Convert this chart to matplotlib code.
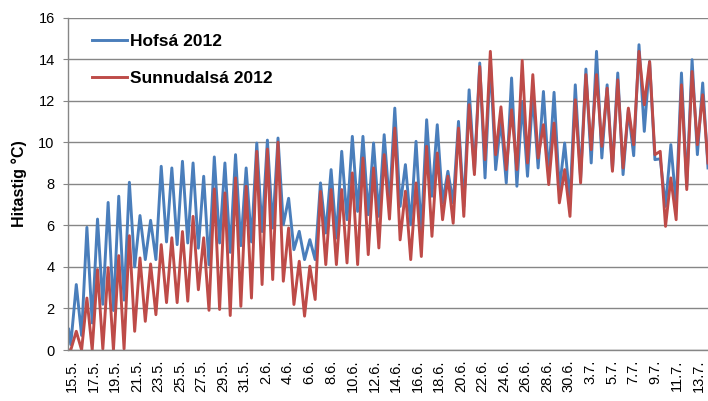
import matplotlib.pyplot as plt
import numpy as np

# daily maximum / minimum (one value per day, 15.5 - 13.7)
hofsa_max = [3.15, 5.9, 6.3, 7.1, 7.4, 8.07, 6.47, 6.24, 8.84, 8.76,
             9.08, 9.0, 8.36, 9.29, 9.0, 9.4, 8.76, 9.96, 10.1, 10.2,
             7.3, 5.71, 5.31, 8.04, 8.68, 9.56, 10.28, 10.28, 9.96, 10.36,
             11.64, 8.92, 10.04, 11.08, 10.84, 8.6, 11.0, 12.52, 13.81, 13.9,
             11.08, 13.09, 11.96, 12.28, 12.44, 12.4, 9.96, 12.76, 13.52, 14.37,
             12.76, 13.33, 11.56, 14.69, 13.88, 9.2, 9.88, 13.33, 13.97, 12.85]
hofsa_min = [0.7, 1.3, 2.2, 1.9, 2.4, 4.0, 4.35, 4.35, 5.2, 5.07,
             5.15, 4.9, 4.1, 5.15, 4.7, 5.02, 5.2, 5.7, 5.87, 6.03,
             4.83, 4.35, 4.35, 5.63, 5.39, 6.27, 6.67, 6.51, 6.43, 7.0,
             6.91, 6.03, 5.63, 7.4, 7.08, 7.08, 6.9, 8.6, 8.28, 8.68,
             8.04, 7.88, 8.36, 8.76, 8.36, 7.72, 7.15, 8.28, 9.0, 9.24,
             8.68, 8.44, 9.35, 10.52, 9.16, 6.91, 7.0, 7.88, 9.4, 8.76]
sunn_max = [0.9, 2.5, 3.87, 3.96, 4.54, 5.5, 4.43, 4.14, 5.07, 5.4,
            5.7, 6.43, 5.4, 7.75, 7.56, 8.28, 7.88, 9.56, 9.67, 10.0,
            5.87, 4.27, 4.03, 7.63, 7.72, 7.72, 8.52, 9.24, 8.76, 9.4,
            10.68, 7.64, 8.04, 9.8, 9.48, 8.36, 10.68, 11.8, 13.64, 14.37,
            11.7, 11.56, 13.93, 13.25, 10.84, 10.92, 8.68, 12.04, 13.25, 13.25,
            12.6, 13.0, 11.64, 14.37, 13.88, 9.56, 8.28, 12.76, 13.4, 12.28]
sunn_min = [0.0, 0.0, 0.05, 0.0, 0.05, 0.9, 1.38, 1.7, 2.28, 2.28,
            2.35, 2.9, 1.91, 1.95, 1.66, 2.1, 2.5, 3.15, 3.39, 3.31,
            2.19, 1.63, 2.43, 4.11, 4.11, 4.19, 4.11, 4.59, 4.91, 6.3,
            5.3, 4.35, 4.5, 5.47, 6.27, 6.1, 6.43, 8.44, 9.16, 9.4,
            8.68, 8.68, 9.0, 9.24, 7.96, 7.08, 6.43, 8.04, 9.64, 9.8,
            8.6, 8.76, 9.88, 11.8, 9.4, 5.95, 6.27, 7.72, 9.88, 9.0]
hofsa_start = [1.0, 0.26]
sunn_start = [0.0, 0.0]

labels = ['15.5.', '17.5.', '19.5.', '21.5.', '23.5.', '25.5.', '27.5.', '29.5.',
          '31.5.', '2.6.', '4.6.', '6.6.', '8.6.', '10.6.', '12.6.', '14.6.',
          '16.6.', '18.6.', '20.6.', '22.6.', '24.6.', '26.6.', '28.6.', '30.6.',
          '3.7.', '5.7.', '7.7.', '9.7.', '11.7.', '13.7.']


def series(start, mx, mn):
    days = np.arange(len(mx))
    x = np.concatenate([[-0.32, -0.12], np.column_stack([days + 0.4, days + 0.9]).ravel()])
    y = np.concatenate([start, np.column_stack([mx, mn]).ravel()])
    return x, y


plt.rcParams['font.family'] = ['Liberation Sans', 'DejaVu Sans']

fig = plt.figure(figsize=(7.08, 4.01), dpi=100)
ax = fig.add_axes([68 / 708, 51 / 401, 640 / 708, 332.5 / 401])

xb, yb = series(hofsa_start, hofsa_max, hofsa_min)
xr, yr = series(sunn_start, sunn_max, sunn_min)
ax.plot(xb, yb, color='#4a7ebb', lw=2.1, solid_joinstyle='round', label='Hofsá 2012')
ax.plot(xr, yr, color='#be4b48', lw=2.1, solid_joinstyle='round', label='Sunnudalsá 2012')

ax.set_xlim(-0.38, 59.9)
ax.set_ylim(0, 16)
ax.set_yticks(range(0, 17, 2))
ax.set_xticks(np.linspace(0, 59, len(labels)))
ax.set_xticklabels(labels, rotation=90)
ax.tick_params(axis='x', length=0, pad=7, labelsize=10.5)
ax.tick_params(axis='y', length=3.6, color='#868686', pad=6, labelsize=10.5)

ax.yaxis.grid(True, color='#868686', lw=1.0)
ax.set_axisbelow(True)
for s in ['top', 'right']:
    ax.spines[s].set_visible(False)
for s in ['left', 'bottom']:
    ax.spines[s].set_color('#868686')
    ax.spines[s].set_linewidth(1.0)

ax.set_ylabel('Hitastig °C)', fontweight='bold', fontsize=11.5)
ax.yaxis.set_label_coords(-0.064, 0.5)

ax.legend(loc='upper left', bbox_to_anchor=(92 / 708, 1 - 34 / 401),
          bbox_transform=fig.transFigure, frameon=False, borderpad=0,
          borderaxespad=0, handlelength=2.0, handletextpad=0.2,
          labelspacing=1.25, prop={'weight': 'bold', 'size': 12.5})

fig.savefig('out.png', dpi=100)
